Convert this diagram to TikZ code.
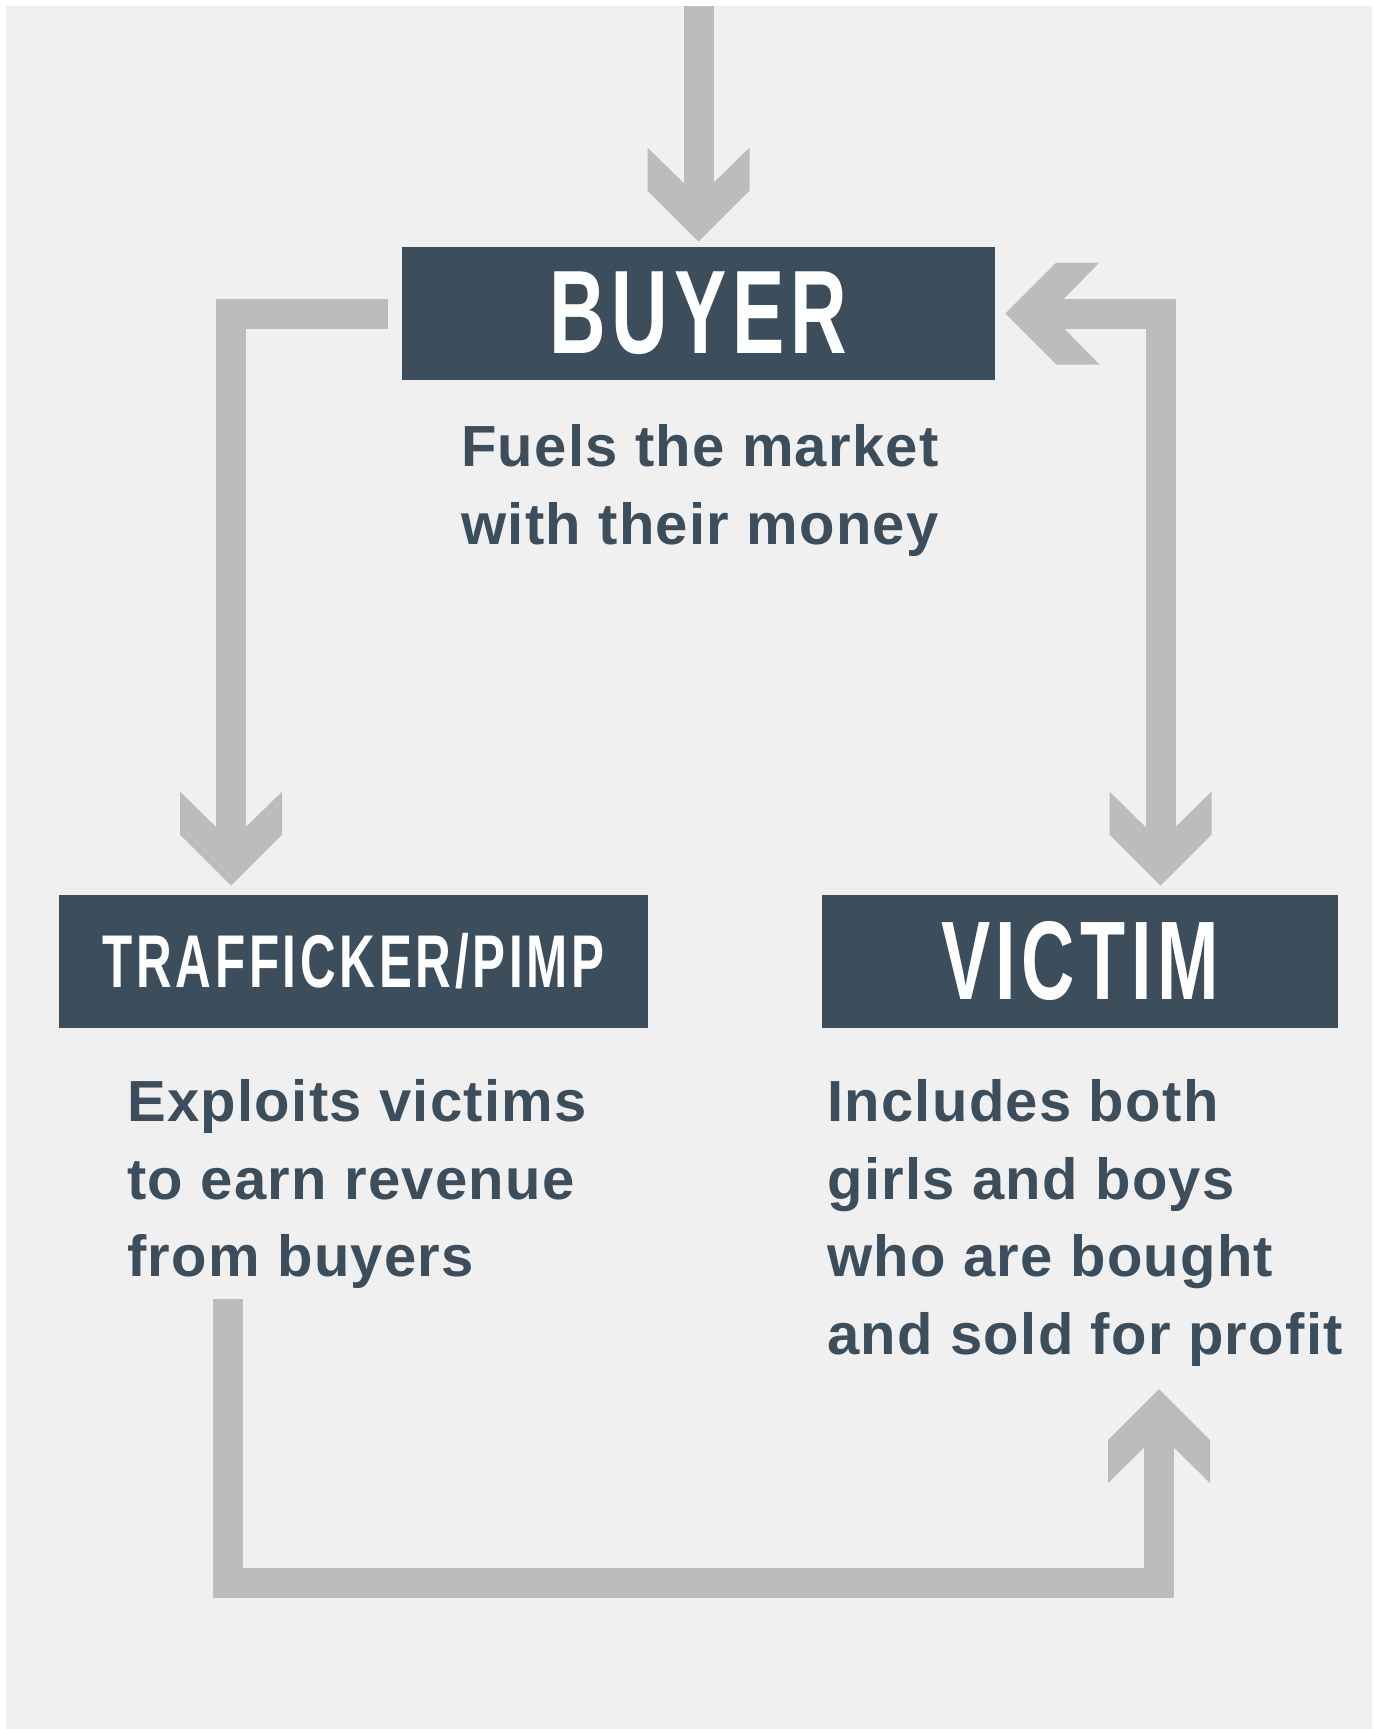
\documentclass[tikz,border=0pt]{standalone}
\usepackage{fontspec}
\setmainfont{Liberation Sans}
\newfontfamily\capsfont[FakeStretch=0.66,LetterSpace=5]{Liberation Sans}
\newfontfamily\descfont[LetterSpace=2.2]{Liberation Sans}
\usetikzlibrary{arrows.meta}
\definecolor{slate}{HTML}{3C4D5C}
\definecolor{arrowgray}{HTML}{BCBCBC}
\definecolor{paper}{HTML}{F0F0F0}
% chevron head of the thick grey arrows
\pgfdeclarearrow{
  name = Chevron,
  setup code = {
    \pgfarrowssettipend{0pt}
    \pgfarrowssetlineend{-20pt}
    \pgfarrowssetbackend{-47pt}
    \pgfarrowshullpoint{0pt}{0pt}
    \pgfarrowshullpoint{-47pt}{25.5pt}
    \pgfarrowshullpoint{-47pt}{-25.5pt}
  },
  drawing code = {
    \pgfpathmoveto{\pgfqpoint{0pt}{0pt}}
    \pgfpathlineto{\pgfqpoint{-25.5pt}{25.5pt}}
    \pgfpathlineto{\pgfqpoint{-47pt}{25.5pt}}
    \pgfpathlineto{\pgfqpoint{-22pt}{0pt}}
    \pgfpathlineto{\pgfqpoint{-47pt}{-25.5pt}}
    \pgfpathlineto{\pgfqpoint{-25.5pt}{-25.5pt}}
    \pgfpathclose
    \pgfusepathqfill
  }
}
\tikzset{
    stage/.style = {rectangle, fill=slate, text=white, inner sep=0pt, minimum height=66.5pt},
    desc/.style = {inner sep=0pt, text=slate, font=\descfont\bfseries\fontsize{29pt}{38.75pt}\selectfont},
    flow/.style = {line width=15pt, draw=arrowgray, -{Chevron}},
    flowboth/.style = {flow, {Chevron}-{Chevron}}
}

\begin{document}
\begin{tikzpicture}[x=0.5pt,y=-0.5pt]
\useasboundingbox (0,0) rectangle (1372,1729);
\fill[paper] (6,6) rectangle (1372,1729);
%
\node[stage, minimum width=296.5pt, font=\capsfont\bfseries\fontsize{59.4pt}{60pt}\selectfont] (buyer) at (698.5,313.5) {BUYER};
\node[stage, minimum width=294.5pt, font=\capsfont\bfseries\fontsize{37.4pt}{38pt}\selectfont] (trafficker) at (353.5,961.5) {TRAFFICKER/PIMP};
\node[stage, minimum width=258pt, font=\capsfont\bfseries\fontsize{55.9pt}{56pt}\selectfont] (victim) at (1080,961.5) {VICTIM};
%
\node[desc, align=center, anchor=north] (buyertext) at (700,424.5) {Fuels the market\\with their money};
\node[desc, align=left, anchor=north west] (traffickertext) at (127,1079.5) {Exploits victims\\to earn revenue\\from buyers};
\node[desc, align=left, anchor=north west] (victimtext) at (827,1079.5) {Includes both\\girls and boys\\who are bought\\and sold for profit};
%
\coordinate (market) at (698.5,6);
\coordinate (loopstart) at (228,1299);
\coordinate (loopend) at (1159,1389);
%
\draw[flow, shorten >=2.5pt] (market) -- (buyer.north);
\draw[flow, shorten <=7pt, shorten >=4.5pt] (buyer.west) -| ([xshift=-61.25pt]trafficker.north);
\draw[flowboth, shorten <=5pt, shorten >=4.5pt] (buyer.east) -| ([xshift=40.25pt]victim.north);
\draw[flow] (loopstart) -- ++(0,283.5) -| (loopend);

\end{tikzpicture}
\end{document}
